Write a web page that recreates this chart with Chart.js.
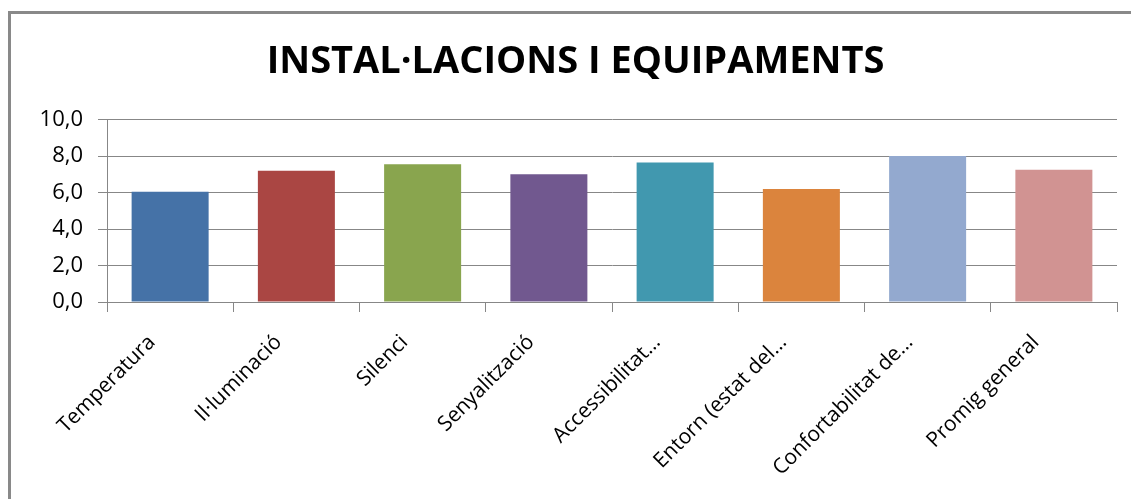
<!DOCTYPE html>
<html>
<head>
<meta charset="utf-8">
<script src="https://cdn.jsdelivr.net/npm/chart.js@4/dist/chart.umd.min.js"></script>
<style>
  html, body { margin: 0; padding: 0; background: #fff; overflow: hidden; }
  /* chart frame: only its top and left edges fall inside the window */
  .edge { position: fixed; background: #898989; }
  #edgeTop { left: 8px; top: 11px; width: 1123px; height: 3px; }
  #edgeLeft { left: 8px; top: 11px; width: 3px; height: 488px; }
  #chart { position: fixed; left: 11px; top: 14px; display: block; }
</style>
</head>
<body>
<div class="edge" id="edgeTop"></div>
<div class="edge" id="edgeLeft"></div>
<canvas id="chart" width="1120" height="485"></canvas>
<script>
// Categories, scores and colours
const categories = [
  'Temperatura',
  'Il·luminació',
  'Silenci',
  'Senyalització',
  'Accessibilitat…',
  'Entorn (estat del…',
  'Confortabilitat de…',
  'Promig general'
];
const scores = [6.05, 7.2, 7.55, 7.0, 7.65, 6.2, 8.0, 7.25];
const barColors = ['#4572A7', '#AA4643', '#89A54E', '#71588F', '#4198AF', '#DB843D', '#93A9CF', '#D19392'];
const yTicks = [0, 2, 4, 6, 8, 10];

const gridColor = '#878787';
const font = "'Open Sans', 'DejaVu Sans', sans-serif";

new Chart(document.getElementById('chart'), {
  type: 'bar',
  data: {
    labels: categories,
    datasets: [{
      data: scores,
      backgroundColor: barColors,
      borderWidth: 0,
      categoryPercentage: 1.0,
      barPercentage: 0.61
    }]
  },
  options: {
    responsive: false,
    animation: false,
    events: [],
    layout: { padding: { left: 23, right: 14, top: 0, bottom: 0 } },
    plugins: {
      legend: { display: false },
      tooltip: { enabled: false },
      title: {
        display: true,
        text: 'INSTAL·LACIONS I EQUIPAMENTS',
        color: '#000',
        font: { family: font, size: 38, weight: 'bold' },
        padding: { top: 25, bottom: 35 }
      }
    },
    scales: {
      x: {
        afterFit: (s) => { s.height = 197; },
        grid: {
          offset: true,
          drawOnChartArea: false,
          drawTicks: true,
          tickLength: 10,
          color: gridColor,
          lineWidth: 1
        },
        border: { display: true, color: gridColor, width: 1 },
        ticks: {
          color: '#000',
          font: { family: font, size: 21 },
          minRotation: 45,
          maxRotation: 45,
          autoSkip: false,
          padding: 18,
          labelOffset: -18
        }
      },
      y: {
        min: 0,
        max: 10,
        afterFit: (s) => { s.width = 73; },
        afterBuildTicks: (s) => { s.ticks = yTicks.map(v => ({ value: v })); },
        grid: {
          color: gridColor,
          lineWidth: 1,
          drawTicks: true,
          tickLength: 9
        },
        border: { display: true, color: gridColor, width: 1 },
        ticks: {
          color: '#000',
          font: { family: font, size: 22 },
          padding: 15,
          callback: (v) => Number(v).toFixed(1).replace('.', ',')
        }
      }
    }
  }
});
</script>
</body>
</html>
